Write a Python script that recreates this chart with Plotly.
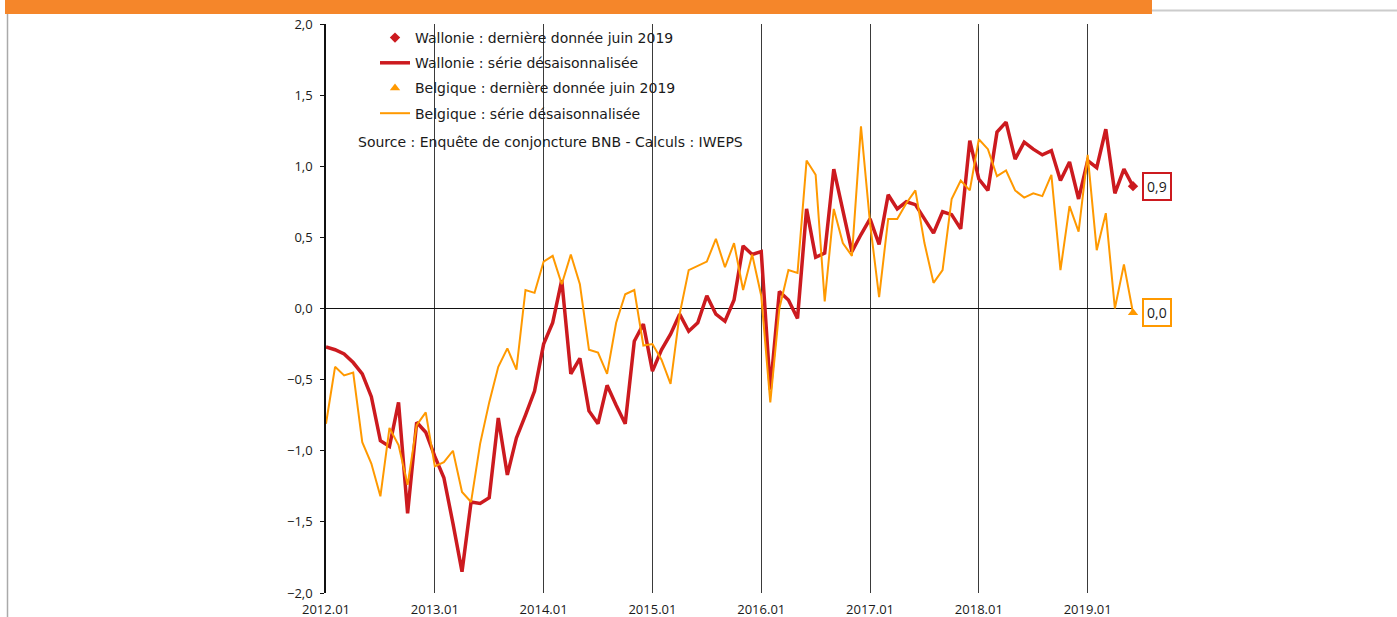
import plotly.graph_objects as go

# ---------------- data ----------------
months = [f"{2012 + i // 12}.{i % 12 + 1:02d}" for i in range(90)]  # 2012.01 .. 2019.06

wallonie = [-0.27, -0.29, -0.32, -0.38, -0.46, -0.62, -0.93, -0.97, -0.66, -1.44, -0.80, -0.87,
            -1.04, -1.19, -1.51, -1.85, -1.36, -1.37, -1.33, -0.77, -1.17, -0.91, -0.75, -0.58,
            -0.25, -0.10, 0.20, -0.46, -0.35, -0.72, -0.81, -0.54, -0.68, -0.81, -0.23, -0.11,
            -0.44, -0.29, -0.18, -0.04, -0.16, -0.10, 0.09, -0.04, -0.09, 0.06, 0.44, 0.38,
            0.40, -0.57, 0.12, 0.06, -0.07, 0.70, 0.36, 0.39, 0.98, 0.70, 0.40, 0.52,
            0.63, 0.45, 0.80, 0.70, 0.75, 0.73, 0.63, 0.53, 0.68, 0.66, 0.56, 1.18,
            0.91, 0.83, 1.24, 1.31, 1.05, 1.17, 1.12, 1.08, 1.11, 0.90, 1.03, 0.77,
            1.04, 0.99, 1.26, 0.81, 0.98, 0.86]

belgique = [-0.81, -0.41, -0.47, -0.45, -0.94, -1.09, -1.32, -0.84, -0.96, -1.24, -0.82, -0.73,
            -1.11, -1.08, -1.00, -1.29, -1.36, -0.95, -0.66, -0.41, -0.28, -0.43, 0.13, 0.11,
            0.33, 0.37, 0.17, 0.38, 0.17, -0.29, -0.31, -0.46, -0.10, 0.10, 0.13, -0.26,
            -0.25, -0.36, -0.53, -0.04, 0.27, 0.30, 0.33, 0.49, 0.29, 0.46, 0.13, 0.38,
            0.09, -0.66, 0.00, 0.27, 0.25, 1.04, 0.94, 0.05, 0.70, 0.46, 0.37, 1.28,
            0.60, 0.08, 0.63, 0.63, 0.74, 0.83, 0.46, 0.18, 0.27, 0.77, 0.90, 0.83,
            1.19, 1.12, 0.93, 0.97, 0.83, 0.78, 0.81, 0.79, 0.94, 0.27, 0.72, 0.54,
            1.08, 0.41, 0.67, 0.00, 0.31, -0.03]

tick_labels = ["2012.01", "2013.01", "2014.01", "2015.01", "2016.01", "2017.01", "2018.01", "2019.01"]

names = ["Wallonie : dernière donnée juin 2019", "Wallonie : série désaisonnalisée",
         "Belgique : dernière donnée juin 2019", "Belgique : série désaisonnalisée"]
source_text = "Source : Enquête de conjoncture BNB - Calculs : IWEPS"

RED = "#CC1A1F"
ORANGE = "#FF9900"
FONT = "Open Sans"
TFONT = "DejaVu Sans"

# ---------------- geometry (pixels) ----------------
W, H = 1397, 617
L, R, T, B = 326, 1133, 24, 593


def px_x(x):
    return (x - L) / (R - L)


def px_y(y):
    return (B - y) / (B - T)


def fmt(v):
    return f"{round(v, 1) + 0.0:.1f}".replace(".", ",")


fig = go.Figure()

fig.add_trace(go.Scatter(x=months, y=wallonie, mode="lines", name=names[1],
                         line=dict(color=RED, width=3.5), legendgroup="b", legendrank=2))
fig.add_trace(go.Scatter(x=months, y=belgique, mode="lines", name=names[3],
                         line=dict(color=ORANGE, width=2), legendgroup="d", legendrank=4))
fig.add_trace(go.Scatter(x=[months[-1]], y=[wallonie[-1]], mode="markers", name=names[0],
                         marker=dict(symbol="diamond", color=RED, size=8), cliponaxis=False,
                         legendgroup="a", legendrank=1))
fig.add_trace(go.Scatter(x=[months[-1]], y=[belgique[-1]], mode="markers", name=names[2],
                         marker=dict(symbol="triangle-up", color=ORANGE, size=9), cliponaxis=False,
                         legendgroup="c", legendrank=3))

annotations = [
    dict(text=source_text, xref="paper", yref="paper", x=px_x(550), y=px_y(142),
         showarrow=False, font=dict(family=TFONT, size=14, color="#1a1a1a"),
         xanchor="center", yanchor="middle"),
    dict(text=fmt(wallonie[-1]), x=1.0, y=wallonie[-1], xref="paper", yref="y",
         showarrow=False, xanchor="left", yanchor="middle", xshift=9,
         bordercolor=RED, borderwidth=2, borderpad=3, bgcolor="white",
         font=dict(family=FONT, size=14, color="#1a1a1a")),
    dict(text=fmt(belgique[-1]), x=1.0, y=belgique[-1], xref="paper", yref="y",
         showarrow=False, xanchor="left", yanchor="middle", xshift=9,
         bordercolor=ORANGE, borderwidth=2, borderpad=3, bgcolor="white",
         font=dict(family=FONT, size=14, color="#1a1a1a")),
]

shapes = [
    # white area behind legend / source (hides year lines)
    dict(type="rect", xref="paper", yref="paper", x0=px_x(345), x1=px_x(757),
         y0=px_y(160), y1=1.0, fillcolor="white", line=dict(width=0), layer="between"),
    # orange header bar
    dict(type="rect", xref="paper", yref="paper", x0=px_x(5), x1=px_x(1152),
         y0=px_y(14), y1=px_y(-2), fillcolor="#F5862A", line=dict(width=0), layer="above"),
    # grey line to the right of the header
    dict(type="line", xref="paper", yref="paper", x0=px_x(1152), x1=px_x(1397),
         y0=px_y(10.5), y1=px_y(10.5), line=dict(color="#CCCCCC", width=2)),
    # grey vertical frame line on the left
    dict(type="line", xref="paper", yref="paper", x0=px_x(7.5), x1=px_x(7.5),
         y0=px_y(617), y1=px_y(14), line=dict(color="#AAAAAA", width=1.5)),
]

fig.update_layout(
    width=W, height=H, autosize=False,
    margin=dict(l=L, r=W - R, t=T, b=H - B, pad=0, autoexpand=False),
    paper_bgcolor="white", plot_bgcolor="white",
    separators=", ",
    font=dict(family=FONT, size=13, color="#1a1a1a"),
    showlegend=True,
    legend=dict(x=px_x(375), y=px_y(22), xanchor="left", yanchor="top",
                bgcolor="rgba(0,0,0,0)", borderwidth=0, tracegroupgap=4,
                font=dict(family=TFONT, size=14, color="#1a1a1a"),
                itemwidth=30, traceorder="grouped"),
    annotations=annotations,
    shapes=shapes,
    xaxis=dict(type="category", range=[0, len(months) - 1], automargin=False,
               tickmode="array", tickvals=[t for t in tick_labels], ticktext=tick_labels,
               showgrid=True, gridcolor="#3a3a3a", gridwidth=1,
               ticks="outside", ticklen=4, tickcolor="rgba(0,0,0,0)",
               showline=False, zeroline=False,
               tickfont=dict(family=FONT, size=13, color="#1a1a1a")),
    yaxis=dict(range=[-2, 2], dtick=0.5, tick0=0, tickformat=".1f", automargin=False,
               showgrid=False, zeroline=True, zerolinecolor="#111111", zerolinewidth=1,
               showline=True, linecolor="#111111", linewidth=1.5,
               ticks="outside", ticklen=4, tickcolor="#111111", tickwidth=1,
               ticklabelstandoff=5,
               tickfont=dict(family=FONT, size=13, color="#1a1a1a")),
)

fig.write_html("out.html", config={"displayModeBar": False},
               post_script="document.body.style.margin='0';")
